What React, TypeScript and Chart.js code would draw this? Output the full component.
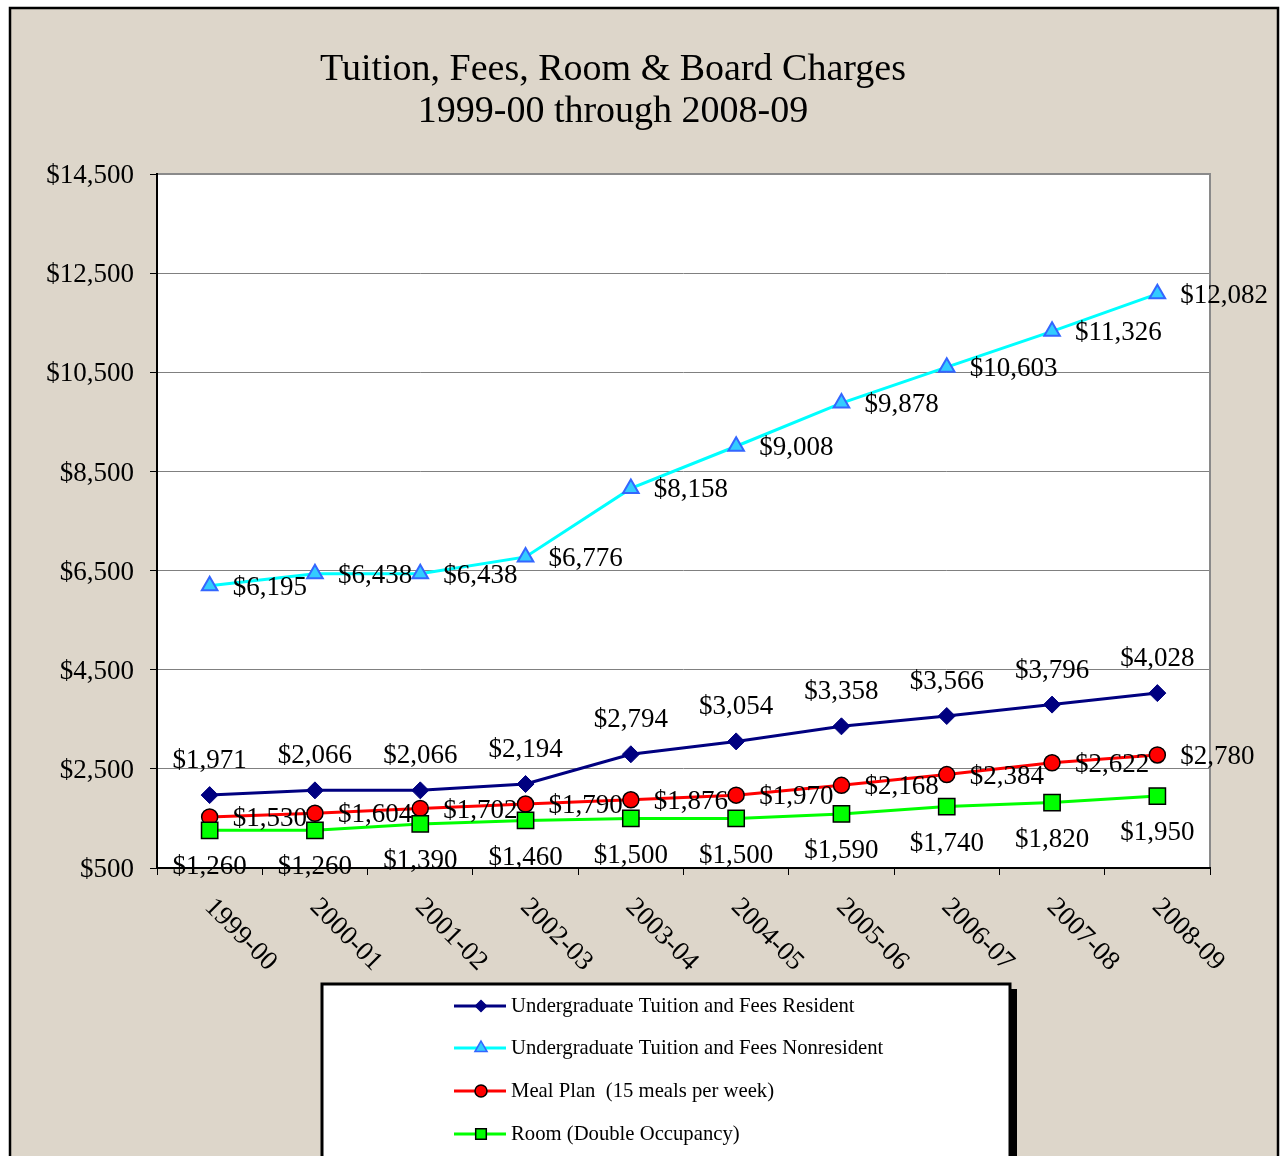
import React, { useEffect, useRef } from 'react';
import { Chart, registerables } from 'chart.js';

Chart.register(...registerables);

const categories = ['1999-00', '2000-01', '2001-02', '2002-03', '2003-04', '2004-05', '2005-06', '2006-07', '2007-08', '2008-09'];
const residentTuition = [1971, 2066, 2066, 2194, 2794, 3054, 3358, 3566, 3796, 4028];
const nonresidentTuition = [6195, 6438, 6438, 6776, 8158, 9008, 9878, 10603, 11326, 12082];
const mealPlan = [1530, 1604, 1702, 1790, 1876, 1970, 2168, 2384, 2622, 2780];
const roomDouble = [1260, 1260, 1390, 1460, 1500, 1500, 1590, 1740, 1820, 1950];
const seriesNames = [
  'Undergraduate Tuition and Fees Resident',
  'Undergraduate Tuition and Fees Nonresident',
  'Meal Plan  (15 meals per week)',
  'Room (Double Occupancy)',
];
const titleLines = ['Tuition, Fees, Room & Board Charges', '1999-00 through 2008-09'];
const yMin = 500;
const yMax = 14500;
const yStep = 2000;

const W = 1281;
const H = 1156;
const FONT = "'Liberation Serif', 'Times New Roman', serif";

const fmt = (v: number) => '$' + v.toLocaleString('en-US');

// label placement per dataset: above / right / below
const labelPos = ['above', 'right', 'right', 'below'];

function drawMarker(ctx: CanvasRenderingContext2D, style: string, x: number, y: number, r: number, fill: string, stroke: string, lw: number) {
  ctx.save();
  ctx.beginPath();
  if (style === 'rectRot') {
    ctx.moveTo(x, y - r);
    ctx.lineTo(x + r, y);
    ctx.lineTo(x, y + r);
    ctx.lineTo(x - r, y);
    ctx.closePath();
  } else if (style === 'triangle') {
    const w = r * Math.sin(Math.PI / 3);
    ctx.moveTo(x, y - r);
    ctx.lineTo(x + w, y + r / 2);
    ctx.lineTo(x - w, y + r / 2);
    ctx.closePath();
  } else if (style === 'circle') {
    ctx.arc(x, y, r, 0, Math.PI * 2);
  } else {
    const s = r * Math.SQRT1_2;
    ctx.rect(x - s, y - s, 2 * s, 2 * s);
  }
  ctx.fillStyle = fill;
  ctx.fill();
  ctx.lineWidth = lw;
  ctx.strokeStyle = stroke;
  ctx.stroke();
  ctx.restore();
}

const decorPlugin = {
  id: 'decor',
  beforeDraw(chart: any) {
    const ctx = chart.ctx as CanvasRenderingContext2D;
    const a = chart.chartArea;
    ctx.save();
    ctx.fillStyle = '#ffffff';
    ctx.fillRect(0, 0, W, H);
    ctx.fillStyle = '#ddd6ca';
    ctx.fillRect(10, 8, 1268, H);
    ctx.strokeStyle = '#000';
    ctx.lineWidth = 2.5;
    ctx.strokeRect(10, 8, 1268, H + 20);
    ctx.fillStyle = '#ffffff';
    ctx.fillRect(a.left, a.top, a.right - a.left, a.bottom - a.top);
    ctx.restore();
  },
  beforeDatasetsDraw(chart: any) {
    const ctx = chart.ctx as CanvasRenderingContext2D;
    const a = chart.chartArea;
    ctx.save();
    ctx.strokeStyle = '#8a8a8a';
    ctx.lineWidth = 2;
    ctx.beginPath();
    ctx.moveTo(a.left, a.top);
    ctx.lineTo(a.right, a.top);
    ctx.lineTo(a.right, a.bottom);
    ctx.stroke();
    ctx.strokeStyle = '#000';
    ctx.lineWidth = 2;
    ctx.beginPath();
    ctx.moveTo(a.left, a.top - 1);
    ctx.lineTo(a.left, a.bottom);
    ctx.lineTo(a.right + 1, a.bottom);
    ctx.stroke();
    ctx.restore();
  },
  afterDatasetsDraw(chart: any) {
    const ctx = chart.ctx as CanvasRenderingContext2D;
    ctx.save();
    ctx.font = `27px ${FONT}`;
    ctx.fillStyle = '#000';
    ctx.textBaseline = 'middle';
    chart.data.datasets.forEach((ds: any, di: number) => {
      const meta = chart.getDatasetMeta(di);
      meta.data.forEach((pt: any, i: number) => {
        const text = fmt(ds.data[i]);
        const pos = labelPos[di];
        if (pos === 'above') {
          ctx.textAlign = 'center';
          ctx.fillText(text, pt.x, pt.y - 34);
        } else if (pos === 'below') {
          ctx.textAlign = 'center';
          ctx.fillText(text, pt.x, pt.y + 37);
        } else {
          ctx.textAlign = 'left';
          ctx.fillText(text, pt.x + 23, pt.y + 2);
        }
      });
    });
    ctx.restore();
  },
  afterDraw(chart: any) {
    const ctx = chart.ctx as CanvasRenderingContext2D;
    const xs = chart.scales.x;
    ctx.save();
    // title
    ctx.fillStyle = '#000';
    ctx.font = `38px ${FONT}`;
    ctx.textAlign = 'center';
    ctx.textBaseline = 'middle';
    ctx.fillText(titleLines[0], 613, 70);
    ctx.fillText(titleLines[1], 613, 112);
    // x labels rotated clockwise
    ctx.font = `27px ${FONT}`;
    ctx.textAlign = 'left';
    categories.forEach((c, i) => {
      const x = xs.getPixelForValue(i);
      ctx.save();
      ctx.translate(x - 1, 903);
      ctx.rotate(Math.PI / 4);
      ctx.fillText(c, 0, 0);
      ctx.restore();
    });
    // legend box
    ctx.fillStyle = '#000';
    ctx.fillRect(1010, 989, 7, 200);
    ctx.fillStyle = '#fff';
    ctx.fillRect(322, 984, 688, 200);
    ctx.strokeStyle = '#000';
    ctx.lineWidth = 3;
    ctx.strokeRect(322, 984, 688, 200);
    const rows = [1006, 1048, 1091, 1134];
    const legendR = [5.5, 7, 6, 7.5];
    ctx.font = `20.7px ${FONT}`;
    ctx.textBaseline = 'middle';
    chart.data.datasets.forEach((ds: any, di: number) => {
      const y = rows[di];
      ctx.strokeStyle = ds.borderColor;
      ctx.lineWidth = 3;
      ctx.beginPath();
      ctx.moveTo(454, y);
      ctx.lineTo(506, y);
      ctx.stroke();
      drawMarker(ctx, ds.pointStyle, 481, y, legendR[di], ds.pointBackgroundColor, ds.pointBorderColor, 1.5);
      ctx.fillStyle = '#000';
      ctx.textAlign = 'left';
      ctx.fillText(ds.label, 511, y + 1);
    });
    ctx.restore();
  },
};

export default function App() {
  const ref = useRef<HTMLCanvasElement>(null);
  useEffect(() => {
    document.body.style.margin = '0';
    const canvas = ref.current!;
    const chart = new Chart(canvas, {
      type: 'line',
      data: {
        labels: categories,
        datasets: [
          {
            label: seriesNames[0],
            data: residentTuition,
            borderColor: '#000080',
            backgroundColor: '#000080',
            pointStyle: 'rectRot',
            pointRadius: 8.5,
            pointBackgroundColor: '#000080',
            pointBorderColor: '#000080',
            pointBorderWidth: 1,
            borderWidth: 3,
            tension: 0,
            order: 4,
          },
          {
            label: seriesNames[1],
            data: nonresidentTuition,
            borderColor: '#00ffff',
            backgroundColor: '#33ccff',
            pointStyle: 'triangle',
            pointRadius: 9,
            pointBackgroundColor: '#33ccff',
            pointBorderColor: '#3366ff',
            pointBorderWidth: 2,
            borderWidth: 3,
            tension: 0,
            order: 3,
          },
          {
            label: seriesNames[2],
            data: mealPlan,
            borderColor: '#ff0000',
            backgroundColor: '#ff0000',
            pointStyle: 'circle',
            pointRadius: 8,
            pointBackgroundColor: '#ff0000',
            pointBorderColor: '#000000',
            pointBorderWidth: 1.5,
            borderWidth: 3,
            tension: 0,
            order: 2,
          },
          {
            label: seriesNames[3],
            data: roomDouble,
            borderColor: '#00ff00',
            backgroundColor: '#00ff00',
            pointStyle: 'rect',
            pointRadius: 11.5,
            pointBackgroundColor: '#00ff00',
            pointBorderColor: '#000000',
            pointBorderWidth: 1.5,
            borderWidth: 3,
            tension: 0,
            order: 1,
          },
        ],
      },
      options: {
        responsive: false,
        animation: false,
        devicePixelRatio: 1,
        layout: { padding: { left: 0, top: 174, right: 71, bottom: 1156 - 868 - 10 } },
        plugins: {
          legend: { display: false },
          title: { display: false },
          tooltip: { enabled: false },
        },
        scales: {
          x: {
            type: 'category',
            offset: true,
            grid: { offset: true, drawOnChartArea: false, drawTicks: true, tickLength: 7, tickColor: '#000', lineWidth: 1 },
            border: { display: false },
            ticks: { display: false },
            afterFit: (s: any) => { s.height = 10; },
          },
          y: {
            min: yMin,
            max: yMax,
            grid: { color: '#808080', lineWidth: 1, drawTicks: true, tickLength: 7, tickColor: '#000' },
            border: { display: false },
            ticks: {
              stepSize: yStep,
              padding: 16,
              labelOffset: 2,
              color: '#000',
              font: { family: FONT, size: 27 },
              callback: (v: any) => fmt(Number(v)),
            },
            afterFit: (s: any) => { s.width = 157; },
          },
        },
      },
      plugins: [decorPlugin],
    } as any);
    return () => chart.destroy();
  }, []);
  return <canvas ref={ref} width={W} height={H} style={{ display: 'block' }} />;
}
